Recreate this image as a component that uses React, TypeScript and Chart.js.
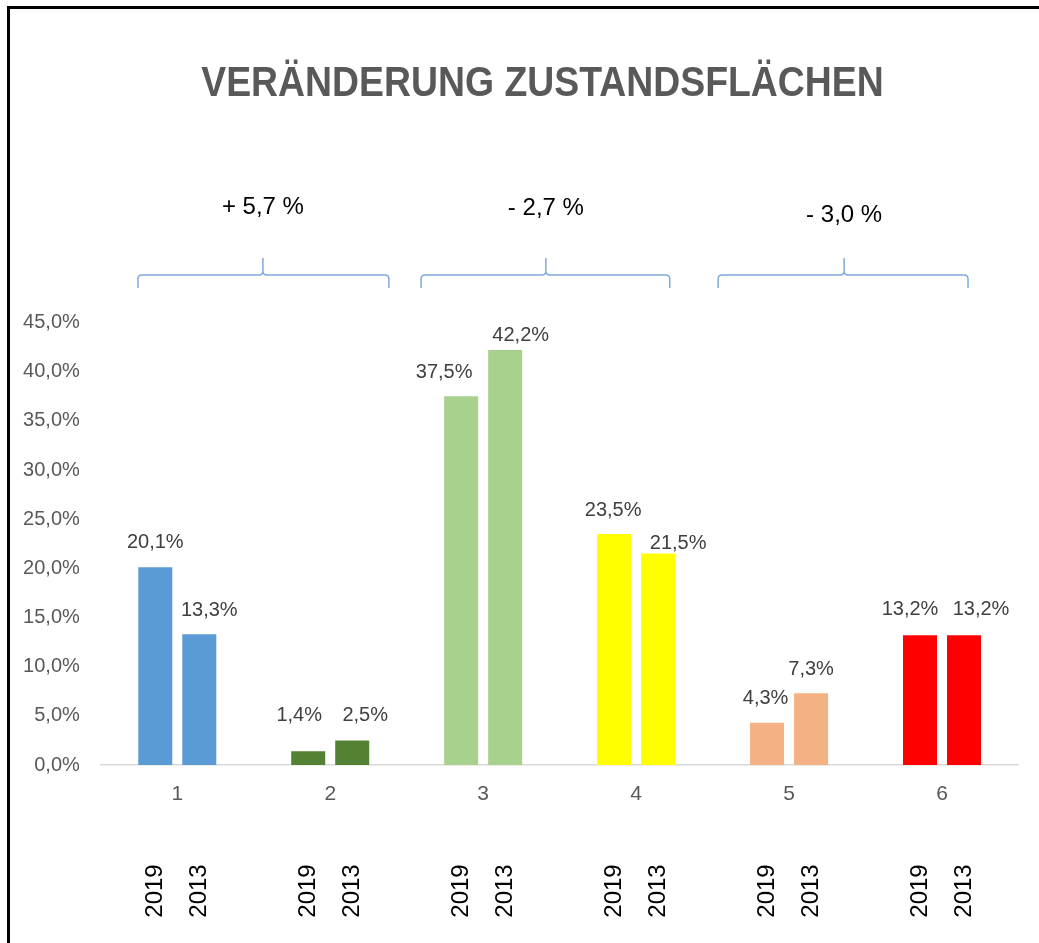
import React, { useEffect, useRef } from 'react';
import { Chart, registerables } from 'chart.js';

Chart.register(...registerables);

const TITLE = 'VERÄNDERUNG ZUSTANDSFLÄCHEN';
const categories = ['1', '2', '3', '4', '5', '6'];
const seriesYears = ['2019', '2013'];
const values2019 = [20.1, 1.4, 37.5, 23.5, 4.3, 13.2];
const values2013 = [13.3, 2.5, 42.2, 21.5, 7.3, 13.2];
const barColors = ['#5B9BD5', '#548235', '#A9D18E', '#FFFF00', '#F4B183', '#FF0000'];
const yMax = 45;
const yStep = 5;

// change annotations (brace spans given in category-index units)
const changeLabels = ['+ 5,7 %', '- 2,7 %', '- 3,0 %'];
const braceFrom = [-0.257, 1.594, 3.536];
const braceTo = [1.384, 3.22, 5.17];
const braceTip = [0.56, 2.41, 4.36];
const changeLabelRise = [68, 67, 60];

// data-label nudges (style only): [dx, dy] relative to bar top centre
const labelNudge2019 = [[0, -25], [-9, -36], [-17, -24], [-1, -23], [-1.5, -24], [-10, -26]];
const labelNudge2013 = [[10, -24], [13, -25], [15.5, -15], [20, -10], [0, -24], [17, -26]];

const FONT = '"Liberation Sans", Arial, sans-serif';
const fmt = (v: number) => v.toFixed(1).replace('.', ',') + '%';

const overlay = {
  id: 'overlay',
  beforeDraw(chart: any) {
    const ctx = chart.ctx;
    ctx.save();
    ctx.fillStyle = '#ffffff';
    ctx.fillRect(0, 0, chart.width, chart.height);
    ctx.restore();
  },
  afterDraw(chart: any) {
    const { ctx, chartArea } = chart;
    const x = chart.scales.x;
    ctx.save();

    // frame
    ctx.fillStyle = '#000000';
    ctx.fillRect(7, 6, 3, chart.height);
    ctx.fillRect(7, 6, chart.width, 3);

    // title
    ctx.save();
    ctx.translate(542.5, 96);
    ctx.scale(0.89, 1);
    ctx.font = `bold 42px ${FONT}`;
    ctx.fillStyle = '#595959';
    ctx.textAlign = 'center';
    ctx.textBaseline = 'alphabetic';
    ctx.fillText(TITLE, 0, 0);
    ctx.restore();

    // data labels
    ctx.font = `20px ${FONT}`;
    ctx.fillStyle = '#404040';
    ctx.textAlign = 'center';
    ctx.textBaseline = 'middle';
    [labelNudge2019, labelNudge2013].forEach((nudges, di) => {
      const meta = chart.getDatasetMeta(di);
      meta.data.forEach((bar: any, i: number) => {
        const v = chart.data.datasets[di].data[i] as number;
        ctx.fillText(fmt(v), bar.x + nudges[i][0], bar.y + nudges[i][1]);
      });
    });

    // year labels (rotated)
    ctx.font = `24px ${FONT}`;
    ctx.fillStyle = '#000000';
    seriesYears.forEach((yr, di) => {
      const meta = chart.getDatasetMeta(di);
      meta.data.forEach((bar: any) => {
        ctx.save();
        ctx.translate(bar.x, chartArea.bottom + 126);
        ctx.rotate(-Math.PI / 2);
        ctx.textAlign = 'center';
        ctx.textBaseline = 'middle';
        ctx.fillText(yr, 0, 0);
        ctx.restore();
      });
    });

    // braces + change labels
    const lineY = chartArea.top - 47.5;
    ctx.strokeStyle = '#7FA9DC';
    ctx.lineWidth = 1.5;
    changeLabels.forEach((txt, k) => {
      const x1 = x.getPixelForValue(braceFrom[k]);
      const x2 = x.getPixelForValue(braceTo[k]);
      const xt = x.getPixelForValue(braceTip[k]);
      const r = 4;
      ctx.beginPath();
      ctx.moveTo(x1, lineY + 13);
      ctx.lineTo(x1, lineY + r);
      ctx.quadraticCurveTo(x1, lineY, x1 + r, lineY);
      ctx.lineTo(xt - r, lineY);
      ctx.quadraticCurveTo(xt, lineY, xt, lineY - r);
      ctx.lineTo(xt, lineY - 17);
      ctx.moveTo(xt, lineY - r);
      ctx.quadraticCurveTo(xt, lineY, xt + r, lineY);
      ctx.lineTo(x2 - r, lineY);
      ctx.quadraticCurveTo(x2, lineY, x2, lineY + r);
      ctx.lineTo(x2, lineY + 13);
      ctx.stroke();

      ctx.font = `24px ${FONT}`;
      ctx.fillStyle = '#000000';
      ctx.textAlign = 'center';
      ctx.textBaseline = 'middle';
      ctx.fillText(txt, xt, lineY - changeLabelRise[k]);
    });

    ctx.restore();
  },
};

export default function App() {
  const ref = useRef<HTMLCanvasElement | null>(null);

  useEffect(() => {
    if (!ref.current) return;
    const chart = new Chart(ref.current, {
      type: 'bar',
      data: {
        labels: categories,
        datasets: [
          {
            label: seriesYears[0],
            data: values2019,
            backgroundColor: barColors,
            categoryPercentage: 0.5754,
            barPercentage: 0.773,
          },
          {
            label: seriesYears[1],
            data: values2013,
            backgroundColor: barColors,
            categoryPercentage: 0.5754,
            barPercentage: 0.773,
          },
        ],
      },
      options: {
        responsive: false,
        animation: false,
        devicePixelRatio: 1,
        layout: { padding: { left: 0, right: 20.5, top: 322.5, bottom: 0 } },
        plugins: {
          legend: { display: false },
          tooltip: { enabled: false },
          title: { display: false },
        },
        scales: {
          x: {
            grid: { display: true, color: 'rgba(0,0,0,0)', drawTicks: false },
            border: { display: true, color: '#D9D9D9', width: 1.5 },
            ticks: {
              color: '#595959',
              font: { family: FONT, size: 21 },
              padding: 17,
            },
            afterFit: (s: any) => {
              s.height = 178;
            },
          },
          y: {
            min: 0,
            max: yMax,
            grid: { display: false, drawTicks: false },
            border: { display: false },
            ticks: {
              stepSize: yStep,
              color: '#595959',
              font: { family: FONT, size: 20 },
              padding: 21,
              callback: (v: any) => fmt(Number(v)),
            },
            afterFit: (s: any) => {
              s.width = 100.8;
            },
          },
        },
      },
      plugins: [overlay],
    });
    return () => chart.destroy();
  }, []);

  return (
    <div style={{ position: 'fixed', left: 0, top: 0, width: 1039, height: 943, overflow: 'hidden', background: '#fff' }}>
      <canvas ref={ref} width={1039} height={943} style={{ display: 'block', width: 1039, height: 943 }} />
    </div>
  );
}
